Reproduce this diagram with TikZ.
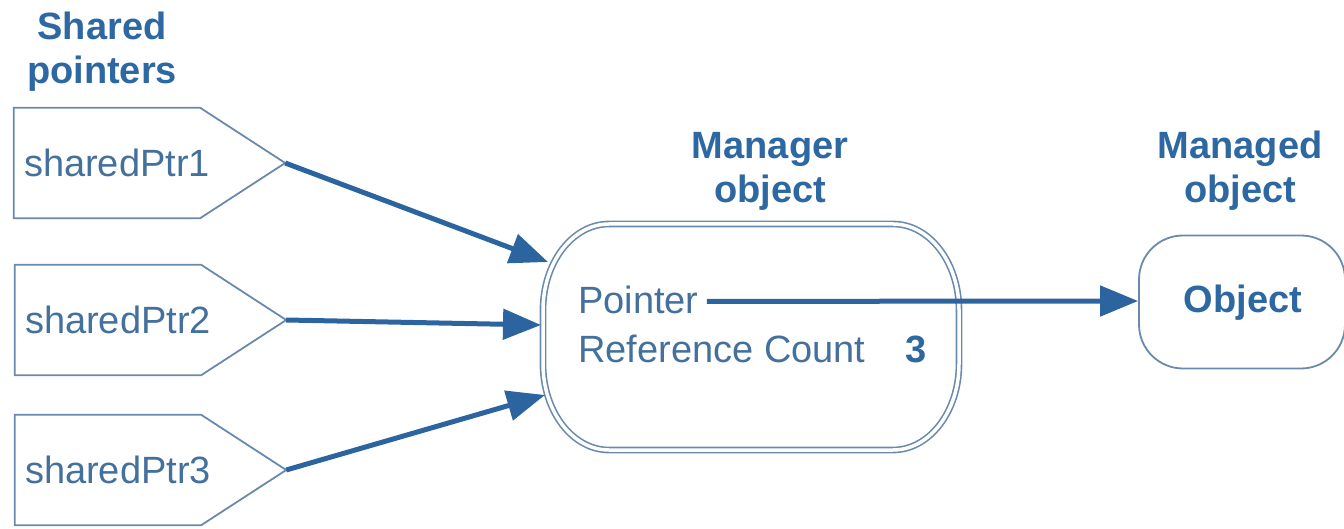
\documentclass[tikz,border=0pt]{standalone}
\usepackage{fontspec}
\setmainfont{Liberation Sans}
\usetikzlibrary{arrows.meta}
\definecolor{titleblue}{RGB}{45,104,162}
\definecolor{textblue}{RGB}{68,112,158}
\definecolor{lineblue}{RGB}{105,138,172}
\definecolor{arrowblue}{RGB}{44,100,160}
\tikzset{
  ttl/.style={font=\fontsize{38}{44}\selectfont\bfseries, text=titleblue, align=center, inner sep=0pt},
  lbl/.style={font=\fontsize{38}{44}\selectfont, text=textblue, inner sep=0pt},
  ptrbox/.style={minimum width=271pt, minimum height=110pt, inner sep=0pt},
  pent/.style={draw=lineblue, line width=1.8pt, line join=miter},
  conn/.style={draw=arrowblue, line width=5pt, -{Triangle[length=38pt,width=30pt]}},
  ell/.style={x radius=66, y radius=86},
}
\begin{document}
\begin{tikzpicture}[x=1pt,y=-1pt]
\useasboundingbox (0,0) rectangle (1344,529);
% titles
\node[ttl] (t1) at (102,52) {Shared\\pointers};
\node[ttl] (t2) at (770,171) {Manager\\object};
\node[ttl] (t3) at (1240,171) {Managed\\object};
% shared pointer boxes
\node[ptrbox] (p1) at (149.5,163) {};
\node[ptrbox] (p2) at (150.5,320) {};
\node[ptrbox] (p3) at (150.5,470) {};
\foreach \p in {p1,p2,p3}{
  \draw[pent] (\p.north west) -- ([xshift=-85pt]\p.north east) -- (\p.east) -- ([xshift=-85pt]\p.south east) -- (\p.south west) -- cycle;
}
\node[lbl, anchor=west] (l1) at ([xshift=10pt]p1.west) {sharedPtr1};
\node[lbl, anchor=west] (l2) at ([xshift=10pt]p2.west) {sharedPtr2};
\node[lbl, anchor=west] (l3) at ([xshift=10pt]p3.west) {sharedPtr3};
% manager object (stadium with elliptical corners, double outline)
\node[minimum width=416pt, minimum height=226pt, inner sep=0pt] (mgr) at (751,337) {};
\draw[draw=lineblue, line width=1.6pt, double=white, double distance=3.5pt]
  (609,224) -- (893,224) arc[start angle=-90, end angle=0, ell]
  -- (959,364) arc[start angle=0, end angle=90, ell]
  -- (609,450) arc[start angle=90, end angle=180, ell]
  -- (543,310) arc[start angle=180, end angle=270, ell] -- cycle;
\node[lbl, anchor=base west] (ptr) at (578,313) {Pointer};
\node[lbl, anchor=base west] (rc) at (578,362) {Reference Count};
\node[lbl, anchor=base, font=\fontsize{38}{44}\selectfont\bfseries, text=titleblue] (cnt) at (916,362) {3};
% managed object
\node[draw=lineblue, line width=1.8pt, rounded corners=44pt, minimum width=206pt, minimum height=133pt] (obj) at (1242,302) {};
\node[ttl] (objt) at (1243,303) {Object};
% connectors
\coordinate (m1) at (548,262);
\coordinate (m2) at (541,325);
\coordinate (m3) at (545,395);
\draw[conn] (p1.east) -- (m1);
\draw[conn] (p2.east) -- (m2);
\draw[conn] (p3.east) -- (m3);
\draw[conn] ([xshift=8pt,yshift=-2pt]ptr.east) -- (obj.west |- 0,301);
\end{tikzpicture}
\end{document}
